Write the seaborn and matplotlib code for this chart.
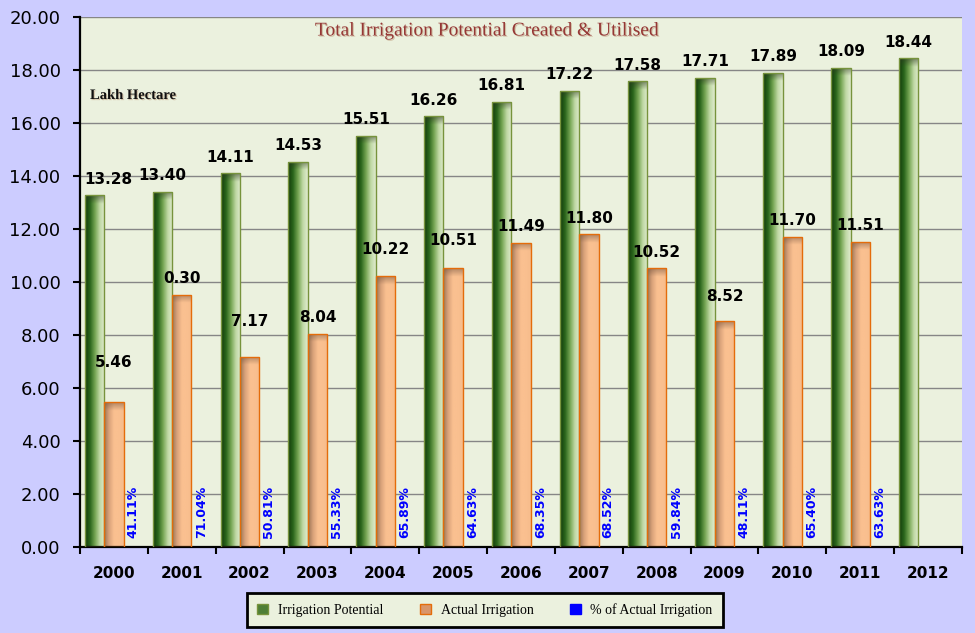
import numpy as np
import pandas as pd
import seaborn as sns
import matplotlib
matplotlib.use('Agg')
import matplotlib.pyplot as plt
from matplotlib.colors import LinearSegmentedColormap, to_rgba
from matplotlib.patches import Patch
from matplotlib import patheffects

# data (lakh hectare)
years = ['2000', '2001', '2002', '2003', '2004', '2005', '2006',
         '2007', '2008', '2009', '2010', '2011', '2012']
potential = [13.28, 13.40, 14.11, 14.53, 15.51, 16.26, 16.81,
             17.22, 17.58, 17.71, 17.89, 18.09, 18.44]
actual = [5.46, 9.52, 7.17, 8.04, 10.22, 10.51, 11.49,
          11.80, 10.52, 8.52, 11.70, 11.51]
actual_labels = ['5.46', '0.30', '7.17', '8.04', '10.22', '10.51', '11.49',
                 '11.80', '10.52', '8.52', '11.70', '11.51']
pct_labels = ['41.11%', '71.04%', '50.81%', '55.33%', '65.89%', '64.63%',
              '68.35%', '68.52%', '59.84%', '48.11%', '65.40%', '63.63%']
series = ['Irrigation Potential', 'Actual Irrigation', '% of Actual Irrigation']

# extra lift (points) of a few hand-placed labels in the original
actual_label_lift = [17, 0, 14, 0, 7.5, 8.3, 0, 0, 0, 6, 0, 0]

BG = '#EBF1DE'
GREEN_EDGE = '#77933C'
ORANGE_EDGE = '#E46C0A'
green_stops = ['#123A0B', '#2B661C', '#74A452', '#BFD8A4', '#E0ECCF']
orange_stops = ['#9C7456', '#D9A27A', '#FAC090', '#FAC090', '#F6BC8C']

df = pd.DataFrame({
    'Year': years + years[:len(actual)],
    'Series': [series[0]] * len(years) + [series[1]] * len(actual),
    'Value': potential + actual,
})

plt.rcParams['font.family'] = 'DejaVu Sans'
fig = plt.figure(figsize=(9.75, 6.33), dpi=100, facecolor='#CCCCFF')
ax = fig.add_axes([80 / 975, 1 - 547 / 633, 882 / 975, 530 / 633])
ax.set_facecolor(BG)

palette = {series[0]: '#4F7F37', series[1]: '#F0A878', series[2]: '#0000FF'}
sns.barplot(data=df, x='Year', y='Value', hue='Series', hue_order=series,
            palette=palette, saturation=1, width=0.857, legend=False, ax=ax, zorder=2)


def shade_bar(patch, stops, cap_rgb):
    x, w, h = patch.get_x(), patch.get_width(), patch.get_height()
    cols = LinearSegmentedColormap.from_list('g', stops)(np.linspace(0, 1, 48))[:, :3]
    rows = 900
    yy = np.linspace(0, h, rows)
    t = np.clip((h - yy) / 0.32, 0, 1)[:, None, None]
    base = np.repeat(cols[None, :, :], rows, axis=0)
    img = base * t + (0.55 * np.array(cap_rgb) + 0.45 * base) * (1 - t)
    im = ax.imshow(img, extent=(x, x + w, 0, h), origin='lower', aspect='auto',
                   interpolation='bilinear', zorder=2.5)
    im.set_clip_path(patch)
    patch.set_facecolor('none')
    patch.set_zorder(3)


green_bars, orange_bars = [], []
for p in list(ax.patches):
    h = p.get_height()
    if h is None or np.isnan(h) or h <= 0:
        continue
    fc = p.get_facecolor()
    if np.allclose(fc, to_rgba(palette[series[0]]), atol=0.02):
        green_bars.append(p)
    elif np.allclose(fc, to_rgba(palette[series[1]]), atol=0.02):
        orange_bars.append(p)

green_bars.sort(key=lambda b: b.get_x())
orange_bars.sort(key=lambda b: b.get_x())

for p in green_bars:
    p.set_edgecolor(GREEN_EDGE)
    p.set_linewidth(1.0)
    shade_bar(p, green_stops, (0.18, 0.22, 0.14))
for p in orange_bars:
    p.set_edgecolor(ORANGE_EDGE)
    p.set_linewidth(1.0)
    shade_bar(p, orange_stops, (0.45, 0.33, 0.25))

label_font = dict(fontsize=11, fontweight='bold', color='black', family='DejaVu Sans')
for i, p in enumerate(green_bars):
    dx = 10 if i == 0 else 0
    ax.annotate(f'{potential[i]:.2f}', (p.get_x() + p.get_width() / 2, p.get_height()),
                xytext=(dx, 8.3), textcoords='offset points', ha='center', va='baseline',
                zorder=5, **label_font)
for i, p in enumerate(orange_bars):
    ax.annotate(actual_labels[i], (p.get_x() + p.get_width() / 2, p.get_height()),
                xytext=(0, 8.3 + actual_label_lift[i]), textcoords='offset points',
                ha='center', va='baseline', zorder=5, **label_font)
    # percentage label sits in the (empty) third slot of each group
    ax.text(p.get_x() + 1.5 * p.get_width(), 0.34, pct_labels[i], rotation=90,
            ha='center', va='bottom', color='#0000FF', fontsize=9, fontweight='bold',
            zorder=5)

ax.set_xlim(-0.5, len(years) - 0.5)
ax.set_ylim(0, 20)
ax.set_yticks(np.arange(0, 20.01, 2))
ax.set_yticklabels([f'{v:.2f}' for v in np.arange(0, 20.01, 2)], fontsize=13)
ax.yaxis.grid(True, color='#868686', linewidth=1.0, zorder=0)
ax.set_axisbelow(True)

ax.set_xticks(range(len(years)))
ax.set_xticklabels(years, fontsize=11, fontweight='bold')
ax.set_xticks(np.arange(-0.5, len(years)), minor=True)
ax.tick_params(axis='x', which='major', length=0, pad=14)
ax.tick_params(axis='x', which='minor', length=5, width=1.5, direction='out')
ax.tick_params(axis='y', length=5, width=1.5, direction='out', pad=9)
ax.set_xlabel('')
ax.set_ylabel('')

for s in ['top', 'right']:
    ax.spines[s].set_visible(False)
for s in ['left', 'bottom']:
    ax.spines[s].set_color('black')
    ax.spines[s].set_linewidth(1.6)

shadow = [patheffects.withSimplePatchShadow(offset=(0.8, -0.8), shadow_rgbFace='#C0A080', alpha=0.6)]
fig.text(0.5, 1 - 31 / 633, 'Total Irrigation Potential Created & Utilised',
         ha='center', va='center', fontsize=14, color='#953735',
         family='Liberation Serif', path_effects=shadow)
ax.text(10 / 882, (547 - 99) / 530, 'Lakh Hectare', transform=ax.transAxes,
        ha='left', va='baseline', fontsize=10.5, fontweight='bold',
        family='Liberation Serif', color='#111111', path_effects=shadow)

handles = [Patch(facecolor='#4F7F37', edgecolor=GREEN_EDGE, label=series[0]),
           Patch(facecolor='#D9956A', edgecolor=ORANGE_EDGE, label=series[1]),
           Patch(facecolor='#0000FF', edgecolor='#0000FF', label=series[2])]
leg = fig.legend(handles=handles, loc='center', ncol=3,
                 bbox_to_anchor=(485 / 975, 23 / 633),
                 prop={'family': 'Liberation Serif', 'size': 10},
                 frameon=True, fancybox=False, facecolor=BG, edgecolor='black',
                 handlelength=0.8, handleheight=0.8, handletextpad=0.7,
                 columnspacing=2.6, borderpad=0.75, borderaxespad=0)
leg.get_frame().set_linewidth(2)
leg.get_frame().set_alpha(1)

fig.savefig('out.png', dpi=100, facecolor=fig.get_facecolor())
